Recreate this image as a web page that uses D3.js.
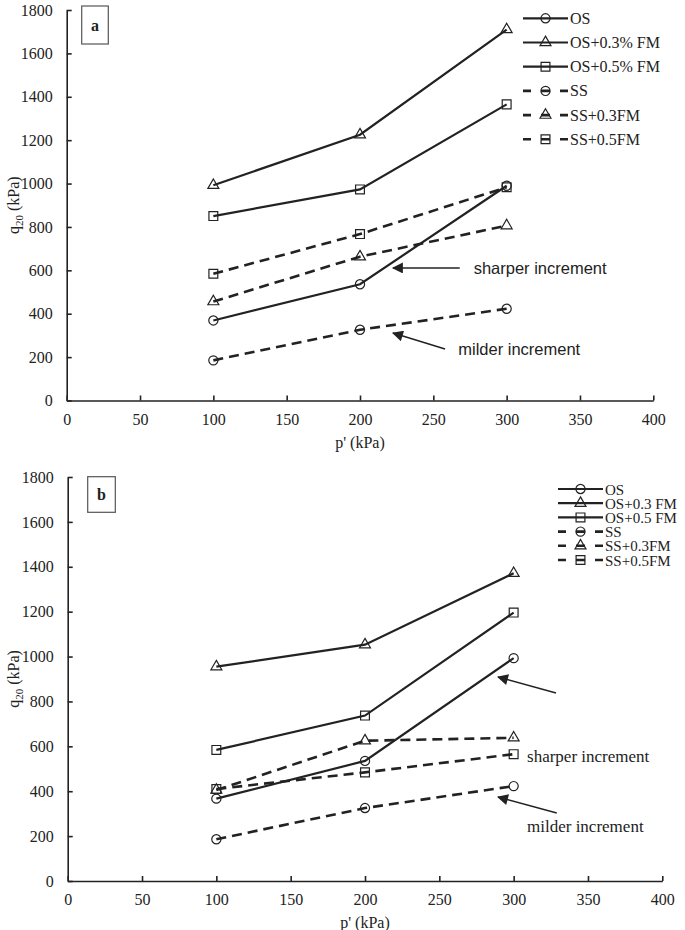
<!DOCTYPE html>
<html>
<head>
<meta charset="utf-8">
<script src="https://cdn.jsdelivr.net/npm/d3@7"></script>
<style>
  html, body { margin: 0; padding: 0; background: #fff; }
  svg { display: block; }
</style>
</head>
<body>
<svg id="chart" width="685" height="930"></svg>
<script>
// ---------------- DATA ----------------
const pressures = [100, 200, 300];               // p' (kPa)
const xTicks = [0, 50, 100, 150, 200, 250, 300, 350, 400];
const yTicks = [0, 200, 400, 600, 800, 1000, 1200, 1400, 1600, 1800];

const namesA = ["OS", "OS+0.3% FM", "OS+0.5% FM", "SS", "SS+0.3FM", "SS+0.5FM"];
const namesB = ["OS", "OS+0.3 FM", "OS+0.5 FM", "SS", "SS+0.3FM", "SS+0.5FM"];
const markers = ["circle", "triangle", "square", "circle", "triangle", "square"];
const dashed  = [false, false, false, true, true, true];

// panel a: q20 (kPa)
const a_OS     = [369, 536, 990];
const a_OS03   = [992, 1225, 1710];
const a_OS05   = [850, 973, 1365];
const a_SS     = [185, 326, 423];
const a_SS03   = [456, 663, 806];
const a_SS05   = [584, 767, 983];

// panel b: q20 (kPa)
const b_OS     = [367, 535, 993];
const b_OS03   = [955, 1053, 1371];
const b_OS05   = [584, 737, 1196];
const b_SS     = [186, 325, 423];
const b_SS03   = [405, 625, 638];
const b_SS05   = [410, 484, 565];

const annotations = ["sharper increment", "milder increment"];

// ---------------- DRAW ----------------
const svg = d3.select("#chart");
const INK = "#222";
const SERIF = "'Liberation Serif', 'Times New Roman', serif";
const SANS = "'Liberation Sans', Arial, sans-serif";

function markerPath(type) {
  const sym = type === "circle" ? d3.symbolCircle : type === "square" ? d3.symbolSquare : d3.symbolTriangle;
  const size = type === "circle" ? 66 : type === "square" ? 78 : 52;
  return d3.symbol().type(sym).size(size)();
}

function txt(sel, size, family) {
  return sel.style("font-family", family || SERIF).style("font-size", size + "px").style("fill", INK);
}

function drawPanel(cfg) {
  const g = svg.append("g");
  const x = d3.scaleLinear().domain([0, 400]).range([cfg.x0, cfg.x1]);
  const y = d3.scaleLinear().domain([0, 1800]).range([cfg.yb, cfg.yt]);

  // axes
  const ax = g.append("g").attr("transform", `translate(0,${cfg.yb})`)
    .call(d3.axisBottom(x).tickValues(xTicks).tickFormat(d3.format("d"))
      .tickSizeInner(-5).tickSizeOuter(0).tickPadding(13));
  const ay = g.append("g").attr("transform", `translate(${cfg.x0},0)`)
    .call(d3.axisLeft(y).tickValues(yTicks).tickFormat(d3.format("d"))
      .tickSizeInner(-5).tickSizeOuter(0).tickPadding(14));
  [ax, ay].forEach(a => {
    a.select(".domain").attr("stroke", INK).attr("stroke-width", 1.6);
    a.selectAll(".tick line").attr("stroke", INK).attr("stroke-width", 1.6);
    txt(a.selectAll(".tick text"), 16);
  });

  // axis titles
  txt(g.append("text").attr("x", (cfg.x0 + cfg.x1) / 2).attr("y", cfg.yb + 47)
    .attr("text-anchor", "middle"), 16).text("p' (kPa)");
  const yt = txt(g.append("text")
    .attr("transform", `translate(19,${(cfg.yb + cfg.yt) / 2}) rotate(-90)`)
    .attr("text-anchor", "middle"), 16);
  yt.append("tspan").text("q");
  yt.append("tspan").style("font-size", "11px").attr("dy", 4).text("20");
  yt.append("tspan").attr("dy", -4).text(" (kPa)");

  // panel label box
  g.append("rect").attr("x", cfg.box[0]).attr("y", cfg.box[1])
    .attr("width", cfg.box[2]).attr("height", cfg.box[3])
    .attr("fill", "#fff").attr("stroke", "#555").attr("stroke-width", 1.2);
  txt(g.append("text").attr("x", cfg.box[0] + cfg.box[2] / 2).attr("y", cfg.box[1] + cfg.box[3] / 2 + 5.5)
    .attr("text-anchor", "middle").style("font-weight", "bold"), 16).text(cfg.label);

  // series
  const line = d3.line().x((d, i) => x(pressures[i])).y(d => y(d));
  cfg.series.forEach((vals, si) => {
    g.append("path").datum(vals).attr("d", line)
      .attr("fill", "none").attr("stroke", INK).attr("stroke-width", dashed[si] ? 2.6 : 2.2)
      .attr("stroke-dasharray", dashed[si] ? "10,6" : null);
    g.selectAll(null).data(vals).enter().append("path")
      .attr("d", markerPath(markers[si]))
      .attr("transform", (d, i) => `translate(${x(pressures[i])},${y(d)})`)
      .attr("fill", "none").attr("stroke", INK).attr("stroke-width", 1.2);
  });

  // legend
  cfg.names.forEach((name, si) => {
    const ly = cfg.legY + si * cfg.legDy;
    const lx0 = cfg.legX, lx1 = cfg.legX + 45;
    g.append("line").attr("x1", lx0).attr("x2", lx1).attr("y1", ly).attr("y2", ly)
      .attr("stroke", INK).attr("stroke-width", dashed[si] ? 2.6 : 2.2)
      .attr("stroke-dasharray", dashed[si] ? "8,10,9,10,8" : null);
    g.append("path").attr("d", markerPath(markers[si]))
      .attr("transform", `translate(${(lx0 + lx1) / 2},${ly})`)
      .attr("fill", "none").attr("stroke", INK).attr("stroke-width", 1.2);
    txt(g.append("text").attr("x", lx1 + 2).attr("y", ly + 5.5), cfg.legFont).text(name);
  });

  // annotations
  cfg.notes.forEach((n, k) => {
    g.append("line")
      .attr("x1", x(n.from[0])).attr("y1", y(n.from[1]))
      .attr("x2", x(n.to[0])).attr("y2", y(n.to[1]))
      .attr("stroke", INK).attr("stroke-width", 1.5)
      .attr("marker-end", "url(#arrow)");
    txt(g.append("text").attr("x", x(n.text[0])).attr("y", y(n.text[1]) + 6),
      cfg.noteSize, cfg.noteFont).text(annotations[k]);
  });
}

// arrow head
svg.append("defs").append("marker").attr("id", "arrow")
  .attr("viewBox", "0 0 10 10").attr("refX", 9).attr("refY", 5)
  .attr("markerWidth", 13).attr("markerHeight", 11).attr("markerUnits", "userSpaceOnUse")
  .attr("orient", "auto")
  .append("path").attr("d", "M0,0 L10,5 L0,10 Z").attr("fill", INK);

drawPanel({
  label: "a", x0: 66.7, x1: 653.3, yb: 400.5, yt: 10,
  box: [81.7, 6, 26.6, 38],
  series: [a_OS, a_OS03, a_OS05, a_SS, a_SS03, a_SS05],
  names: namesA, legX: 523, legY: 18.3, legDy: 24.2, legFont: 16,
  noteFont: SANS, noteSize: 16.5,
  notes: [
    { from: [268, 611], to: [222.5, 611], text: [277.5, 611] },
    { from: [258, 237], to: [222.5, 311], text: [267, 237] }
  ]
});

drawPanel({
  label: "b", x0: 67.7, x1: 662.3, yb: 881, yt: 477,
  box: [87.7, 476.7, 27.6, 35.6],
  series: [b_OS, b_OS03, b_OS05, b_SS, b_SS03, b_SS05],
  names: namesB, legX: 558, legY: 489, legDy: 14.2, legFont: 15,
  noteFont: SERIF, noteSize: 17,
  notes: [
    { from: [328.5, 838], to: [289.5, 909], text: [309, 557] },
    { from: [329, 303], to: [289.5, 374], text: [309, 245] }
  ]
});
</script>
</body>
</html>
